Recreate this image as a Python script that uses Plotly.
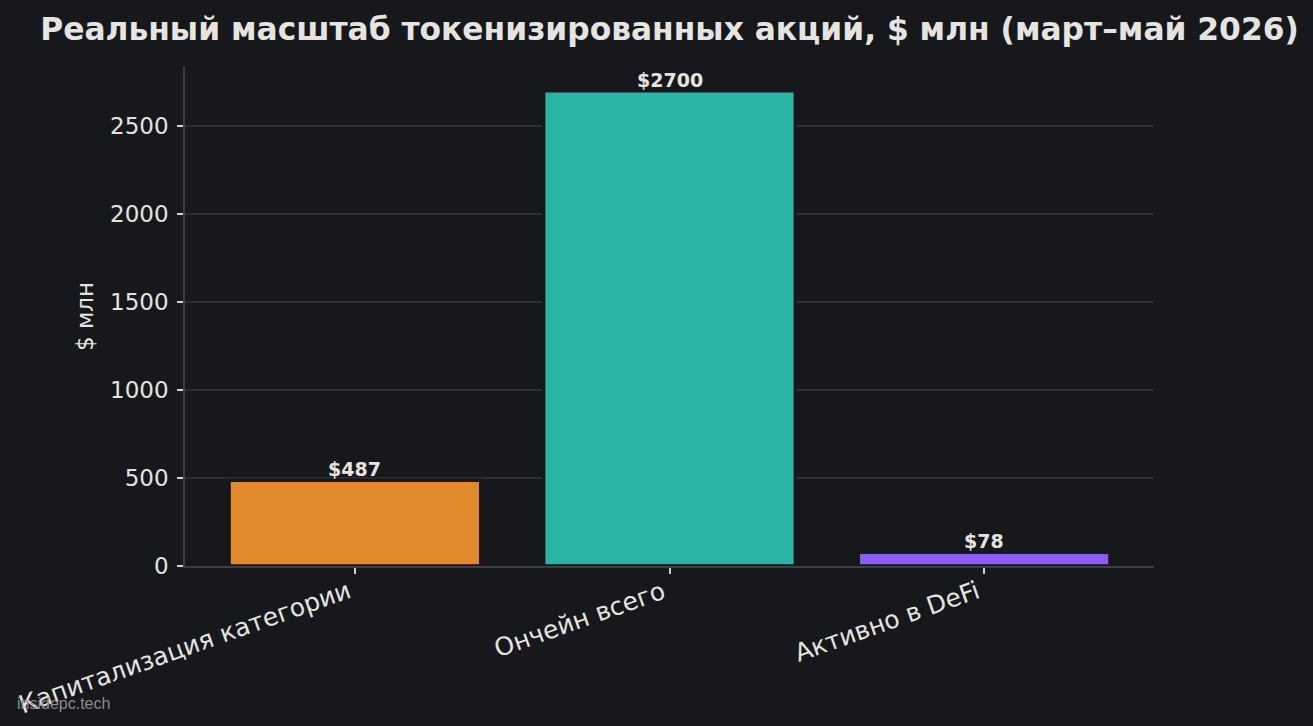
import plotly.graph_objects as go

categories = ["Капитализация категории", "Ончейн всего", "Активно в DeFi"]
values = [487, 2700, 78]
bar_labels = ["$487", "$2700", "$78"]
bar_colors = ["#e08a2c", "#2bb3a3", "#8b5cf6"]
y_ticks = [0, 500, 1000, 1500, 2000, 2500]

BG = "#16181c"
TXT = "#e6e4e0"
FONT = "DejaVu Sans"

L, R, T, B = 185, 1154, 67, 566
PW, PH = R - L, B - T

fig = go.Figure()
fig.add_trace(go.Bar(
    x=categories, y=values, width=0.8,
    marker=dict(color=bar_colors, line=dict(color=BG, width=3.5)),
    hoverinfo="skip",
))

for c, v, t in zip(categories, values, bar_labels):
    fig.add_annotation(x=c, y=v, text="<b>%s</b>" % t, showarrow=False,
                       xref="x", yref="y", yanchor="bottom", yshift=-2,
                       font=dict(family=FONT, size=19, color=TXT))

# rotated category labels (anchored by their rotated bounding box, right/top)
for c in categories:
    fig.add_annotation(x=c, y=0, xref="x", yref="y", text=c, showarrow=False,
                       textangle=-19.5, xanchor="right", yanchor="top",
                       xshift=2, yshift=-7,
                       font=dict(family=FONT, size=25, color=TXT))

fig.add_annotation(x=(15 - L) / PW, y=(B - 703) / PH, xref="paper", yref="paper",
                   text="insidepc.tech", showarrow=False, xanchor="left", yanchor="middle",
                   font=dict(family="Liberation Sans", size=16, color="#8a8a8a"))

fig.update_layout(
    width=1313, height=726,
    paper_bgcolor=BG, plot_bgcolor=BG,
    margin=dict(l=L, r=1313 - R, t=T, b=726 - B),
    showlegend=False,
    title=dict(text="<b>Реальный масштаб токенизированных акций, $ млн (март–май 2026)</b>",
               x=(L + R) / 2 / 1313, xanchor="center", xref="container",
               y=1 - 29.5 / 726, yanchor="middle", yref="container",
               font=dict(family=FONT, size=31.3, color=TXT)),
    font=dict(family=FONT, color=TXT),
)

fig.update_xaxes(
    range=[-0.54, 2.54], showgrid=False,
    showline=True, linecolor="#3b3e45", linewidth=1.5,
    ticks="outside", ticklen=6, tickcolor="#cfcfcf", tickwidth=1.5,
    showticklabels=False,
)
fig.update_yaxes(
    range=[0, 2835], tickvals=y_ticks,
    showgrid=True, gridcolor="#2b2e34", gridwidth=1.5,
    showline=True, linecolor="#3b3e45", linewidth=1.5,
    ticks="outside", ticklen=6, tickcolor="#cfcfcf", tickwidth=1.5,
    tickfont=dict(family=FONT, size=23, color=TXT), ticklabelstandoff=4,
    zeroline=False,
    title=dict(text="$ млн", font=dict(family=FONT, size=23, color=TXT), standoff=10),
)

fig.write_html("out.html")
